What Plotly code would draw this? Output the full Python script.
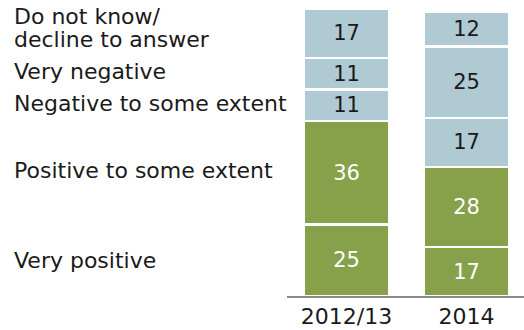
import plotly.graph_objects as go

categories = ["2012/13", "2014"]
series_names = ["Very positive", "Positive to some extent", "Negative to some extent",
                "Very negative", "Do not know/<br>decline to answer"]
very_positive = [25, 17]
positive_some = [36, 28]
negative_some = [11, 17]
very_negative = [11, 25]
dont_know = [17, 12]
values = [very_positive, positive_some, negative_some, very_negative, dont_know]

GREEN = "#87a04a"
BLUE = "#b0cad4"
colors = [GREEN, GREEN, BLUE, BLUE, BLUE]
text_colors = ["white", "white", "#1a1a1a", "#1a1a1a", "#1a1a1a"]

FONT = "DejaVu Sans"
xpos = list(range(len(categories)))

fig = go.Figure()
for name, vals, c, tc in zip(series_names, values, colors, text_colors):
    fig.add_trace(go.Bar(
        x=xpos, y=vals, name=name, width=0.71,
        marker=dict(color=c, line=dict(color="white", width=2.5)),
        text=[str(v) for v in vals], textposition="inside",
        insidetextanchor="middle", constraintext="none",
        textfont=dict(family=FONT, size=21, color=tc),
        hoverinfo="skip",
    ))

# Left-side labels aligned with 2012/13 segments
LABEL_X = -1.160
cum = 0
for i, (name, vals) in enumerate(zip(series_names, values)):
    mid = cum + vals[0] / 2
    cum += vals[0]
    lines = name.split("<br>")
    if len(lines) == 1:
        fig.add_annotation(x=LABEL_X, xref="paper", y=mid, yref="y", text=name,
                           showarrow=False, xanchor="left", yanchor="middle",
                           yshift=2 if i > 0 else 0,
                           font=dict(family=FONT, size=22, color="#1a1a1a"))
    else:
        for j, ln in enumerate(lines):
            fig.add_annotation(x=LABEL_X, xref="paper", y=mid, yref="y", text=ln,
                               showarrow=False, xanchor="left", yanchor="middle",
                               yshift=16.5 - 22.5 * j,
                               font=dict(family=FONT, size=22, color="#1a1a1a"))

fig.update_layout(
    barmode="stack", width=524, height=330,
    margin=dict(l=287, r=0, t=9, b=34, autoexpand=False),
    paper_bgcolor="white", plot_bgcolor="white",
    showlegend=False, bargap=0, hovermode=False,
    xaxis=dict(range=[-0.496, 1.479], tickvals=xpos, ticktext=categories,
               showline=True, linecolor="#8c8c8c", linewidth=2,
               showgrid=False, zeroline=False, ticks="", ticklen=0,
               automargin=False,
               tickfont=dict(family=FONT, size=22, color="#1a1a1a")),
    yaxis=dict(range=[0, 100], visible=False, showgrid=False, zeroline=False,
               automargin=False),
)

fig.write_html("out.html", config={"displayModeBar": False, "staticPlot": True},
               post_script="document.body.style.margin='0px';document.body.style.overflow='hidden';")
